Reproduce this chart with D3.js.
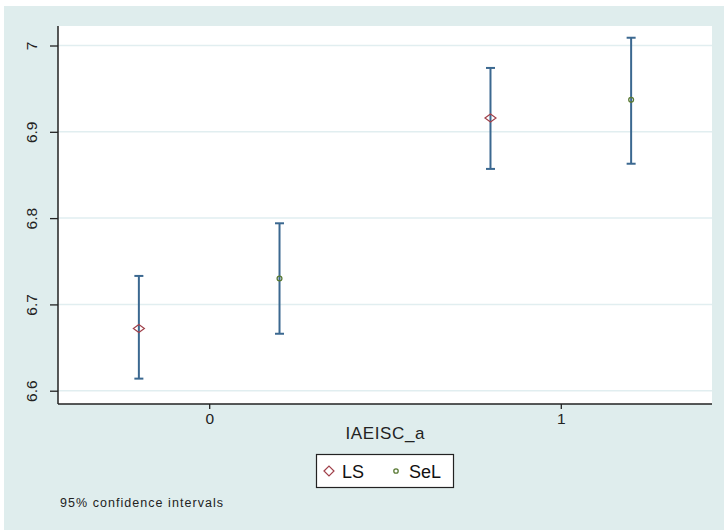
<!DOCTYPE html>
<html>
<head>
<meta charset="utf-8">
<script src="https://cdn.jsdelivr.net/npm/d3@7"></script>
<style>
  html, body { margin: 0; padding: 0; background: #ffffff; }
  svg { display: block; font-family: "Liberation Sans", Arial, sans-serif; }
</style>
</head>
<body>
<svg id="chart" width="724" height="530"></svg>
<script>
// Predictive margins with 95% confidence intervals, by IAEISC_a and group
const categories = [0, 1];
const seriesNames = ["LS", "SeL"];
const lsMargin = [6.672, 6.916];
const lsLower  = [6.614, 6.857];
const lsUpper  = [6.733, 6.974];
const selMargin = [6.730, 6.937];
const selLower  = [6.666, 6.863];
const selUpper  = [6.794, 7.009];
const yTicks = [6.6, 6.7, 6.8, 6.9, 7];
const xLabel = "IAEISC_a";
const noteText = "95% confidence intervals";

const series = [
  { name: seriesNames[0], margin: lsMargin, lo: lsLower, hi: lsUpper, offset: -0.2, color: "#a0404a", shape: "diamond" },
  { name: seriesNames[1], margin: selMargin, lo: selLower, hi: selUpper, offset: 0.2, color: "#5a7a35", shape: "circle" }
];

const svg = d3.select("#chart");
const W = 724, H = 530;
const region = { x: 4, y: 6, w: W - 4, h: H - 6 };
const plot = { left: 58, top: 26, right: 712, bottom: 404 };

// graph region background
svg.append("rect").attr("x", region.x).attr("y", region.y)
  .attr("width", region.w).attr("height", region.h).attr("fill", "#dfeded");

// plot region
svg.append("rect").attr("x", plot.left).attr("y", plot.top)
  .attr("width", plot.right - plot.left).attr("height", plot.bottom - plot.top)
  .attr("fill", "#ffffff");

const x = d3.scaleLinear().domain([-0.43, 1.43]).range([plot.left, plot.right]);
const y = d3.scaleLinear().domain([6.5846, 7.0226]).range([plot.bottom, plot.top]);

// horizontal grid
svg.append("g").selectAll("line").data(yTicks).join("line")
  .attr("x1", plot.left).attr("x2", plot.right)
  .attr("y1", d => y(d)).attr("y2", d => y(d))
  .attr("stroke", "#e1eef0").attr("stroke-width", 1.5);

// y axis
const yAxis = d3.axisLeft(y).tickValues(yTicks).tickSize(8).tickPadding(10)
  .tickFormat(d => d3.format("")(d));
const gy = svg.append("g").attr("transform", `translate(${plot.left},0)`).call(yAxis);
gy.select(".domain").attr("stroke", "#222").attr("stroke-width", 1.5)
  .attr("d", `M0,${plot.top}V${plot.bottom}`);
gy.selectAll(".tick line").attr("stroke", "#222").attr("stroke-width", 1.3);
gy.selectAll(".tick text")
  .attr("font-size", 15.5).attr("fill", "#222")
  .attr("text-anchor", "middle").attr("dy", null)
  .attr("x", null)
  .attr("transform", "translate(-26,0) rotate(-90)")
  .attr("y", 5);

// x axis
const xAxis = d3.axisBottom(x).tickValues(categories).tickSize(5).tickPadding(4)
  .tickFormat(d3.format("d"));
const gx = svg.append("g").attr("transform", `translate(0,${plot.bottom})`).call(xAxis);
gx.select(".domain").attr("stroke", "#222").attr("stroke-width", 1.5)
  .attr("d", `M${plot.left},0H${plot.right}`);
gx.selectAll(".tick line").attr("stroke", "#222").attr("stroke-width", 1.3);
gx.selectAll(".tick text").attr("font-size", 15.5).attr("fill", "#222");

svg.append("text").attr("x", x(0.5) - 39.5).attr("y", 439)
  .attr("font-size", 17).attr("fill", "#222")
  .attr("textLength", 79).attr("lengthAdjust", "spacing")
  .text(xLabel);

// confidence intervals and markers
const capHalf = 4.5;
series.forEach(s => {
  const g = svg.append("g");
  const rows = categories.map((c, i) => ({ cx: x(c + s.offset), m: s.margin[i], lo: s.lo[i], hi: s.hi[i] }));
  g.selectAll("line.ci").data(rows).join("line").attr("class", "ci")
    .attr("x1", d => d.cx).attr("x2", d => d.cx)
    .attr("y1", d => y(d.lo)).attr("y2", d => y(d.hi))
    .attr("stroke", "#3b6890").attr("stroke-width", 2);
  ["lo", "hi"].forEach(k => {
    g.selectAll("line.cap-" + k).data(rows).join("line").attr("class", "cap-" + k)
      .attr("x1", d => d.cx - capHalf).attr("x2", d => d.cx + capHalf)
      .attr("y1", d => y(d[k])).attr("y2", d => y(d[k]))
      .attr("stroke", "#3b6890").attr("stroke-width", 2);
  });
  if (s.shape === "diamond") {
    g.selectAll("path.mk").data(rows).join("path").attr("class", "mk")
      .attr("d", d => `M${d.cx - 5.5},${y(d.m)}L${d.cx},${y(d.m) - 4}L${d.cx + 5.5},${y(d.m)}L${d.cx},${y(d.m) + 4}Z`)
      .attr("fill", "none").attr("stroke", s.color).attr("stroke-width", 1.2);
  } else {
    g.selectAll("circle.mk").data(rows).join("circle").attr("class", "mk")
      .attr("cx", d => d.cx).attr("cy", d => y(d.m)).attr("r", 2.4)
      .attr("fill", "none").attr("stroke", s.color).attr("stroke-width", 1.3);
  }
});

// legend
const leg = svg.append("g");
leg.append("rect").attr("x", 316.5).attr("y", 454.5).attr("width", 137).attr("height", 33)
  .attr("fill", "#ffffff").attr("stroke", "#222").attr("stroke-width", 1.2);
const lx = [329, 396];
series.forEach((s, i) => {
  const cx = lx[i], cy = 471;
  if (s.shape === "diamond") {
    leg.append("path")
      .attr("d", `M${cx - 5},${cy}L${cx},${cy - 5}L${cx + 5},${cy}L${cx},${cy + 5}Z`)
      .attr("fill", "none").attr("stroke", s.color).attr("stroke-width", 1.2);
  } else {
    leg.append("circle").attr("cx", cx).attr("cy", cy).attr("r", 2.2)
      .attr("fill", "none").attr("stroke", s.color).attr("stroke-width", 1.3);
  }
  leg.append("text").attr("x", cx + 13).attr("y", cy + 6.5)
    .attr("font-size", 18).attr("fill", "#111")
    .text(s.name);
});

// note
svg.append("text").attr("x", 60).attr("y", 507)
  .attr("font-size", 12.5).attr("fill", "#222")
  .attr("textLength", 163).attr("lengthAdjust", "spacing")
  .text(noteText);
</script>
</body>
</html>
